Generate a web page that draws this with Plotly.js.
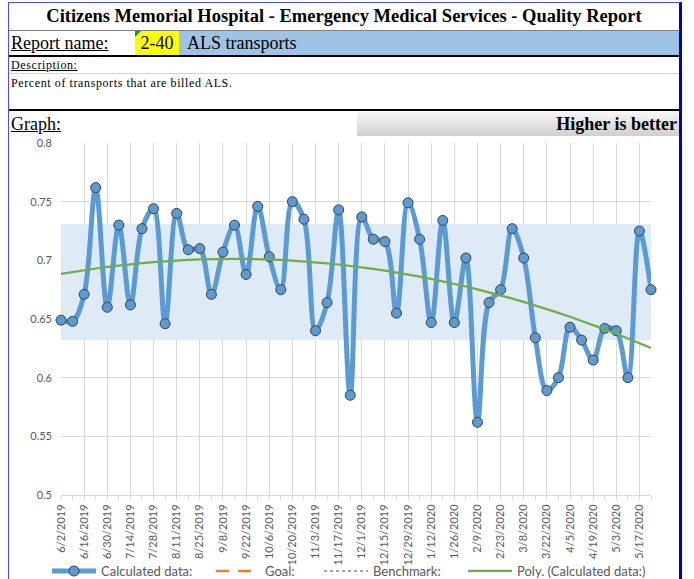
<!DOCTYPE html>
<html><head><meta charset="utf-8">
<script src="https://cdn.plot.ly/plotly-3.0.1.min.js"></script>
<style>
html,body{margin:0;padding:0;background:#fff;width:694px;height:579px;overflow:hidden;}
#chart{position:absolute;left:0;top:0;width:694px;height:579px;}
#hdr{position:absolute;left:0;top:0;width:694px;height:137px;z-index:2;background:#fff;font-family:"Liberation Serif","Times New Roman",serif;color:#000;}
#hdr div{position:absolute;white-space:nowrap;}
#frame{position:absolute;left:8px;top:2px;width:670px;height:577px;border-left:1px solid #4b4bff;border-right:3px solid #0000c8;border-top:1px solid #4b4bff;z-index:3;pointer-events:none;}
</style></head>
<body>
<div id="chart"></div>
<div id="hdr">
  <div style="left:9px;top:3px;width:670px;height:27px;line-height:27px;text-align:center;font-weight:bold;font-size:18.5px;">Citizens Memorial Hospital - Emergency Medical Services - Quality Report</div>
  <div style="left:9px;top:30px;width:670px;height:1px;background:#7f7f7f;"></div>
  <div style="left:11px;top:31px;height:24px;line-height:24px;font-size:18px;text-decoration:underline;">Report name:</div>
  <div style="left:135px;top:31px;width:44px;height:24px;line-height:24px;background:#ffff00;font-size:18px;text-align:center;">2-40</div>
  <div style="left:135px;top:31px;width:0;height:0;border-top:6px solid #00a050;border-right:6px solid transparent;"></div>
  <div style="left:179px;top:31px;width:492px;padding-left:8px;height:24px;line-height:24px;background:#9dc3e6;font-size:18px;">ALS transports</div>
  <div style="left:9px;top:55px;width:670px;height:2px;background:#000;"></div>
  <div style="left:11px;top:58px;height:15px;line-height:15px;font-size:12px;letter-spacing:0.6px;text-decoration:underline;">Description:</div>
  <div style="left:9px;top:73px;width:670px;height:1px;background:#d4d4d4;"></div>
  <div style="left:11px;top:76px;height:15px;line-height:15px;font-size:12px;letter-spacing:0.6px;">Percent of transports that are billed ALS.</div>
  <div style="left:9px;top:109px;width:670px;height:2px;background:#000;"></div>
  <div style="left:11px;top:112px;height:25px;line-height:25px;font-size:18px;text-decoration:underline;">Graph:</div>
  <div style="left:357px;top:112px;width:320px;padding-right:2px;height:24px;line-height:24px;background:linear-gradient(#f6f6f6,#cfcfcf);font-size:18px;font-weight:bold;text-align:right;">Higher is better</div>
</div>
<div id="frame"></div>
<script>
const dates = ["6/2/2019","6/9/2019","6/16/2019","6/23/2019","6/30/2019","7/7/2019","7/14/2019","7/21/2019","7/28/2019","8/4/2019","8/11/2019","8/18/2019","8/25/2019","9/1/2019","9/8/2019","9/15/2019","9/22/2019","9/29/2019","10/6/2019","10/13/2019","10/20/2019","10/27/2019","11/3/2019","11/10/2019","11/17/2019","11/24/2019","12/1/2019","12/8/2019","12/15/2019","12/22/2019","12/29/2019","1/5/2020","1/12/2020","1/19/2020","1/26/2020","2/2/2020","2/9/2020","2/16/2020","2/23/2020","3/1/2020","3/8/2020","3/15/2020","3/22/2020","3/29/2020","4/5/2020","4/12/2020","4/19/2020","4/26/2020","5/3/2020","5/10/2020","5/17/2020","5/24/2020"];
const calculated = [0.649,0.648,0.671,0.762,0.660,0.730,0.662,0.727,0.744,0.646,0.740,0.709,0.710,
  0.671,0.707,0.730,0.688,0.746,0.703,0.675,0.750,0.735,0.640,0.664,0.743,
  0.585,0.737,0.718,0.716,0.655,0.749,0.718,0.647,0.734,0.647,0.702,0.562,0.664,
  0.675,0.727,0.702,0.634,0.589,0.600,0.643,0.632,0.615,0.642,0.640,0.600,0.725,0.675];
const goal = [];       // no goal values in the report
const benchmark = [];  // no benchmark values in the report
const bandLow = 0.632;
const bandHigh = 0.731;
const yTicks = [0.5,0.55,0.6,0.65,0.7,0.75,0.8];

const idx = dates.map((d,i)=>i);
const tickIdx = idx.filter(i=>i%2===0);
const tickText = tickIdx.map(i=>dates[i]);
const lastIdx = idx[idx.length-1];

// Order-2 polynomial least-squares trendline of the calculated data
function polyFit2(xs, ys){
  let S=[0,0,0,0,0], T=[0,0,0];
  xs.forEach((x,k)=>{let p=1;for(let j=0;j<5;j++){S[j]+=p;if(j<3)T[j]+=p*ys[k];p*=x;}});
  const A=[[S[0],S[1],S[2],T[0]],[S[1],S[2],S[3],T[1]],[S[2],S[3],S[4],T[2]]];
  for(let c=0;c<3;c++){for(let r=c+1;r<3;r++){const f=A[r][c]/A[c][c];for(let k=c;k<4;k++)A[r][k]-=f*A[c][k];}}
  const b=[0,0,0];
  for(let r=2;r>=0;r--){let s=A[r][3];for(let k=r+1;k<3;k++)s-=A[r][k]*b[k];b[r]=s/A[r][r];}
  return b;
}
const coef = polyFit2(idx, calculated);
const trend = idx.map(x=>coef[0]+coef[1]*x+coef[2]*x*x);

const legFont = {family:"Lato, 'Open Sans', sans-serif", size:13, color:'#595959'};
const legBase = {orientation:'h', yanchor:'middle', y:-0.216, xanchor:'left', bgcolor:'rgba(0,0,0,0)', font:legFont, borderwidth:0, itemwidth:44};

const traces = [
  {x:[0, lastIdx, lastIdx, 0, 0], y:[bandLow, bandLow, bandHigh, bandHigh, bandLow], type:'scatter', mode:'lines',
   fill:'toself', fillcolor:'#DEEAF6', line:{width:0, color:'rgba(0,0,0,0)'}, showlegend:false, hoverinfo:'skip'},
  {x:idx, y:calculated, type:'scatter', mode:'lines+markers', name:'Calculated data:',
   line:{color:'#5B9BD5', width:5, shape:'spline', smoothing:1},
   marker:{size:10, color:'#5B9BD5', line:{color:'#404040', width:1}},
   legend:'legend', cliponaxis:false},
  {x:goal.length ? goal.map((v,i)=>i) : [null], y:goal.length ? goal : [null], type:'scatter', mode:'lines', name:'Goal:',
   line:{color:'#ED7D31', width:2.5, dash:'13px,9px'}, legend:'legend2'},
  {x:benchmark.length ? benchmark.map((v,i)=>i) : [null], y:benchmark.length ? benchmark : [null], type:'scatter', mode:'lines', name:'Benchmark:',
   line:{color:'#A5A5A5', width:2, dash:'dot'}, legend:'legend3'},
  {x:idx, y:trend, type:'scatter', mode:'lines', name:'Poly. (Calculated data:)',
   line:{color:'#70AD47', width:2.25}, legend:'legend4'}
];

const layout = {
  width:694, height:579,
  margin:{l:61, r:43, t:143, b:84, autoexpand:false},
  paper_bgcolor:'#ffffff', plot_bgcolor:'#ffffff',
  font:{family:"Lato, 'Open Sans', sans-serif", size:11, color:'#595959'},
  showlegend:true,
  xaxis:{range:[0,51], tickmode:'array', tickvals:tickIdx, ticktext:tickText, tickangle:-90,
    showgrid:true, gridcolor:'#D9D9D9', gridwidth:1, zeroline:false,
    showline:true, linecolor:'#D9D9D9', linewidth:1,
    ticks:'outside', ticklen:4, tickcolor:'#D9D9D9',
    minor:{tickmode:'array', tickvals:idx, ticks:'outside', ticklen:4, tickcolor:'#D9D9D9', showgrid:false},
    tickfont:{size:11, color:'#595959'}, fixedrange:true},
  yaxis:{range:[0.5,0.8], tickmode:'array', tickvals:yTicks, ticktext:yTicks.map(String),
    showgrid:true, gridcolor:'#D9D9D9', gridwidth:1, zeroline:false, showline:false,
    ticks:'', ticklabelstandoff:8, tickfont:{size:11, color:'#595959'}, fixedrange:true},
  legend:Object.assign({}, legBase, {x:-0.0237}),
  legend2:Object.assign({}, legBase, {x:0.2542}),
  legend3:Object.assign({}, legBase, {x:0.4373}),
  legend4:Object.assign({}, legBase, {x:0.6814})
};

Plotly.newPlot('chart', traces, layout, {displayModeBar:false, staticPlot:true});
</script>
</body></html>
